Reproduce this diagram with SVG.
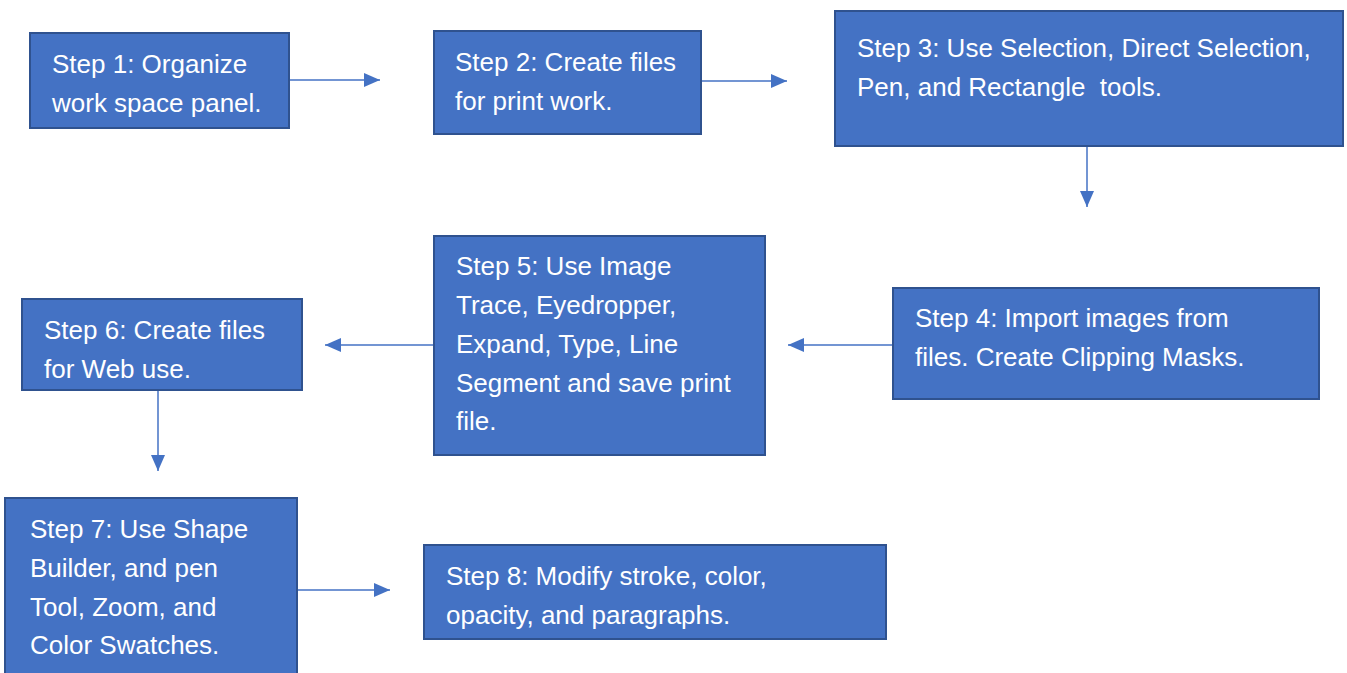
<svg xmlns="http://www.w3.org/2000/svg" width="1347" height="673" viewBox="0 0 1347 673">
<style>
.box{fill:#4472C4;stroke:#2F528F;stroke-width:2}
.t{font-family:"Liberation Sans",Arial,sans-serif;font-size:26px;fill:#FFFFFF}
.c{stroke:#4472C4;stroke-width:1.5;fill:none}
</style>
<defs>
<marker id="ah2" viewBox="0 0 16 14" refX="16" refY="7" markerWidth="16" markerHeight="14" markerUnits="userSpaceOnUse" orient="auto">
<path d="M0,0 L16,7 L0,14 z" fill="#4472C4"/>
</marker>
</defs>
<rect width="1347" height="673" fill="#FFFFFF"/>
<g id="connectors">
<line class="c" x1="289" y1="80" x2="380" y2="80" marker-end="url(#ah2)"/>
<line class="c" x1="701" y1="81" x2="787" y2="81" marker-end="url(#ah2)"/>
<line class="c" x1="1087" y1="146" x2="1087" y2="207" marker-end="url(#ah2)"/>
<line class="c" x1="893" y1="345" x2="788" y2="345" marker-end="url(#ah2)"/>
<line class="c" x1="434" y1="345" x2="325" y2="345" marker-end="url(#ah2)"/>
<line class="c" x1="158" y1="390" x2="158" y2="471" marker-end="url(#ah2)"/>
<line class="c" x1="297" y1="590" x2="390" y2="590" marker-end="url(#ah2)"/>
</g>
<g id="step1">
<rect class="box" x="30" y="33" width="259" height="95"/>
<text class="t" x="52" y="73">Step 1: Organize</text>
<text class="t" x="52" y="112">work space panel.</text>
</g>
<g id="step2">
<rect class="box" x="434" y="31" width="267" height="103"/>
<text class="t" x="455" y="71">Step 2: Create files</text>
<text class="t" x="455" y="110">for print work.</text>
</g>
<g id="step3">
<rect class="box" x="835" y="11" width="508" height="135"/>
<text class="t" x="857" y="57">Step 3: Use Selection, Direct Selection,</text>
<text class="t" x="857" y="96" xml:space="preserve">Pen, and Rectangle  tools.</text>
</g>
<g id="step4">
<rect class="box" x="893" y="288" width="426" height="111"/>
<text class="t" x="915" y="327">Step 4: Import images from</text>
<text class="t" x="915" y="366">files. Create Clipping Masks.</text>
</g>
<g id="step5">
<rect class="box" x="434" y="236" width="331" height="219"/>
<text class="t" x="456" y="275">Step 5: Use Image</text>
<text class="t" x="456" y="314">Trace, Eyedropper,</text>
<text class="t" x="456" y="353">Expand, Type, Line</text>
<text class="t" x="456" y="392">Segment and save print</text>
<text class="t" x="456" y="430">file.</text>
</g>
<g id="step6">
<rect class="box" x="22" y="299" width="280" height="91"/>
<text class="t" x="44" y="339">Step 6: Create files</text>
<text class="t" x="44" y="378">for Web use.</text>
</g>
<g id="step7">
<rect class="box" x="5" y="498" width="292" height="177"/>
<text class="t" x="30" y="538">Step 7: Use Shape</text>
<text class="t" x="30" y="577">Builder, and pen</text>
<text class="t" x="30" y="616">Tool, Zoom, and</text>
<text class="t" x="30" y="654">Color Swatches.</text>
</g>
<g id="step8">
<rect class="box" x="424" y="545" width="462" height="94"/>
<text class="t" x="446" y="585">Step 8: Modify stroke, color,</text>
<text class="t" x="446" y="624">opacity, and paragraphs.</text>
</g>
</svg>
